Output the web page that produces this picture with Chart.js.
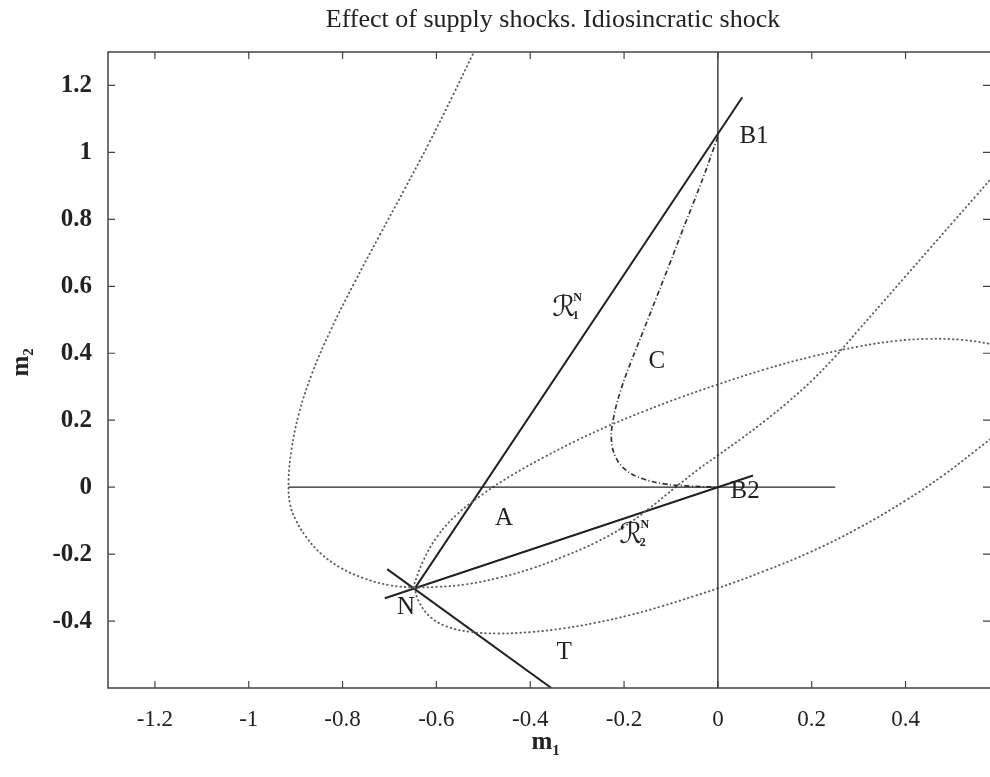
<!DOCTYPE html>
<html>
<head>
<meta charset="utf-8">
<script src="https://cdn.jsdelivr.net/npm/chart.js@4.4.1/dist/chart.umd.min.js"></script>
<style>
  html,body{margin:0;padding:0;background:#fff;overflow:hidden;}
  canvas{display:block;}
</style>
</head>
<body>
<canvas id="c" width="990" height="777"></canvas>
<script>
const xTicks = [-1.2,-1,-0.8,-0.6,-0.4,-0.2,0,0.2,0.4];
const yTicks = [-0.4,-0.2,0,0.2,0.4,0.6,0.8,1,1.2];

// straight lines
const axisH = [[-0.915,0],[0.25,0]];
const axisV = [[0,-0.6],[0,1.3]];
const lineR1 = [[-0.645,-0.30],[0.052,1.165]];
const lineR2 = [[-0.71,-0.332],[0.075,0.035]];
const lineT  = [[-0.705,-0.245],[-0.355,-0.6]];

// dash-dot curve C (B1 -> B2)
const curveC = [[0,1.046],[-0.012,1.0],[-0.03,0.93],[-0.052,0.85],[-0.076,0.765],[-0.102,0.67],
  [-0.13,0.57],[-0.158,0.47],[-0.185,0.375],[-0.207,0.29],[-0.222,0.21],[-0.227,0.145],
  [-0.218,0.09],[-0.195,0.05],[-0.16,0.025],[-0.115,0.01],[-0.06,0.003],[0,0]];

// dotted curves
const dotLeft = [[-0.505,1.34],[-0.52,1.30],[-0.565,1.17],[-0.615,1.03],[-0.668,0.89],[-0.722,0.75],
  [-0.775,0.61],[-0.825,0.47],[-0.865,0.34],[-0.893,0.22],[-0.909,0.11],[-0.915,0.02],
  [-0.912,-0.05],[-0.899,-0.10],[-0.877,-0.15],[-0.845,-0.20],[-0.805,-0.24],[-0.755,-0.272],
  [-0.70,-0.293],[-0.65,-0.30]];
const dotUpper = [[-0.65,-0.30],[-0.628,-0.22],[-0.597,-0.145],[-0.555,-0.08],[-0.50,-0.02],
  [-0.44,0.035],[-0.37,0.09],[-0.30,0.14],[-0.23,0.185],[-0.155,0.228],[-0.08,0.268],[0.0,0.307],
  [0.10,0.352],[0.20,0.39],[0.30,0.42],[0.38,0.437],[0.45,0.443],[0.52,0.44],[0.58,0.428],[0.62,0.415]];
const dotSteep = [[-0.647,-0.30],[-0.60,-0.298],[-0.535,-0.29],[-0.465,-0.27],[-0.395,-0.242],
  [-0.325,-0.205],[-0.26,-0.165],[-0.20,-0.118],[-0.145,-0.062],[-0.09,0.0],[-0.04,0.055],[0.0,0.095],
  [0.05,0.145],[0.10,0.198],[0.15,0.255],[0.20,0.318],[0.25,0.39],[0.30,0.47],[0.35,0.55],
  [0.40,0.63],[0.45,0.71],[0.50,0.79],[0.55,0.87],[0.60,0.95]];
const dotLower = [[-0.647,-0.30],[-0.638,-0.34],[-0.615,-0.385],[-0.58,-0.415],[-0.53,-0.432],
  [-0.47,-0.437],[-0.40,-0.433],[-0.33,-0.422],[-0.26,-0.405],[-0.19,-0.383],[-0.12,-0.356],
  [-0.05,-0.325],[0.0,-0.302],[0.10,-0.25],[0.20,-0.192],[0.30,-0.122],[0.40,-0.04],[0.48,0.035],
  [0.55,0.11],[0.60,0.165]];

const labels = [
  {t:'B1', x:0.077, y:1.049}, {t:'B2', x:0.058, y:-0.012}, {t:'C', x:-0.130, y:0.376},
  {t:'A', x:-0.456, y:-0.093}, {t:'T', x:-0.328, y:-0.493}, {t:'N', x:-0.665, y:-0.359}
];
const rLabels = [{sub:'1', x:-0.318, y:0.535}, {sub:'2', x:-0.175, y:-0.143}];

const pts = a => a.map(p => ({x:p[0], y:p[1]}));
const SERIF = '"Liberation Serif","Times New Roman",serif';

function solid(d, w){ return {data:pts(d), showLine:true, pointRadius:0, borderColor:'#222', borderWidth:w, tension:0, clip:0}; }
function dotted(d){ return {data:pts(d), showLine:true, pointRadius:0, borderColor:'#5e5e5e', borderWidth:1.9,
  borderDash:[0.5,3.9], borderCapStyle:'round', tension:0.4, clip:0}; }

const deco = {
  id:'deco',
  afterDraw(chart){
    const {ctx, chartArea:a, scales:{x, y}} = chart;
    ctx.save();
    // frame
    ctx.strokeStyle = '#444'; ctx.lineWidth = 1.5;
    ctx.beginPath();
    ctx.moveTo(a.right+2, a.top); ctx.lineTo(a.left, a.top); ctx.lineTo(a.left, a.bottom); ctx.lineTo(a.right+2, a.bottom);
    ctx.stroke();
    // inward ticks
    ctx.lineWidth = 1.2;
    ctx.beginPath();
    xTicks.forEach(v => { const px = x.getPixelForValue(v);
      ctx.moveTo(px, a.top); ctx.lineTo(px, a.top+7); ctx.moveTo(px, a.bottom); ctx.lineTo(px, a.bottom-7); });
    yTicks.forEach(v => { const py = y.getPixelForValue(v);
      ctx.moveTo(a.left, py); ctx.lineTo(a.left+7, py); ctx.moveTo(a.right, py); ctx.lineTo(a.right-7, py); });
    ctx.stroke();
    // title
    ctx.fillStyle = '#222';
    ctx.textAlign = 'center'; ctx.textBaseline = 'middle';
    ctx.font = '26px ' + SERIF;
    ctx.fillText('Effect of supply shocks. Idiosincratic shock', 553, 20);
    // axis titles
    ctx.font = 'bold 25px ' + SERIF;
    ctx.fillText('m', 542, 743);
    ctx.font = 'bold 15px ' + SERIF;
    ctx.fillText('1', 556, 751);
    ctx.save();
    ctx.translate(22, 362); ctx.rotate(-Math.PI/2);
    ctx.font = 'bold 25px ' + SERIF; ctx.fillText('m', -4, 0);
    ctx.font = 'bold 15px ' + SERIF; ctx.fillText('2', 10, 7);
    ctx.restore();
    // point labels
    ctx.font = '25px ' + SERIF;
    labels.forEach(l => ctx.fillText(l.t, x.getPixelForValue(l.x), y.getPixelForValue(l.y)));
    rLabels.forEach(l => {
      const px = x.getPixelForValue(l.x), py = y.getPixelForValue(l.y);
      ctx.font = '29px "DejaVu Serif","DejaVu Sans",serif';
      ctx.fillText('\u211B', px-5, py);
      ctx.font = 'bold 12px ' + SERIF;
      ctx.fillText(l.sub, px+7, py+8);
      ctx.fillText('N', px+9, py-10);
    });
    ctx.restore();
  }
};

new Chart(document.getElementById('c'), {
  type:'scatter',
  data:{datasets:[
    solid(axisH, 1.3), solid(axisV, 1.3),
    dotted(dotLeft), dotted(dotUpper), dotted(dotSteep), dotted(dotLower),
    {data:pts(curveC), showLine:true, pointRadius:0, borderColor:'#333', borderWidth:1.7,
      borderDash:[5,2.5,1,2.5], tension:0.4, clip:0},
    solid(lineR1, 2), solid(lineR2, 2), solid(lineT, 2)
  ]},
  options:{
    responsive:false, animation:false, devicePixelRatio:1,
    layout:{padding:{top:52, right:0, bottom:0, left:0}},
    plugins:{legend:{display:false}, tooltip:{enabled:false}, title:{display:false}},
    scales:{
      x:{type:'linear', min:-1.3, max:0.58,
        grid:{display:false}, border:{display:false},
        afterBuildTicks: s => { s.ticks = xTicks.map(v => ({value:v})); },
        afterFit: s => { s.height = 89; },
        ticks:{padding:10, color:'#222', font:{family:SERIF, size:23}, callback:v => String(v)}},
      y:{type:'linear', min:-0.6, max:1.3,
        grid:{display:false}, border:{display:false},
        afterBuildTicks: s => { s.ticks = yTicks.map(v => ({value:v})); },
        afterFit: s => { s.width = 108; },
        ticks:{padding:8, color:'#222', font:{family:SERIF, size:25, weight:'bold'}, callback:v => String(v)}}
    }
  },
  plugins:[deco]
});
</script>
</body>
</html>
